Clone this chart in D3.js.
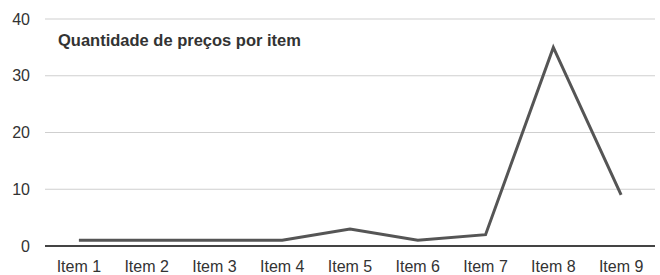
<!DOCTYPE html>
<html>
<head>
<meta charset="utf-8">
<script src="https://cdn.jsdelivr.net/npm/d3@7"></script>
<style>
  body { margin: 0; background: #fff; }
  text { font-family: "Liberation Sans", Arial, sans-serif; fill: #333; }
</style>
</head>
<body>
<div id="chart"></div>
<script>
// data
const items = ['Item 1', 'Item 2', 'Item 3', 'Item 4', 'Item 5', 'Item 6', 'Item 7', 'Item 8', 'Item 9']
const precos = [1, 1, 1, 1, 3, 1, 2, 35, 9]
const yTicks = [0, 10, 20, 30, 40]

const width = 660
const height = 275
const margin = { top: 19, right: 5, bottom: 29, left: 45 }

const svg = d3.select('#chart').append('svg')
  .attr('width', width)
  .attr('height', height)

const x = d3.scalePoint()
  .domain(items)
  .range([margin.left, width - margin.right])
  .padding(0.5)

const y = d3.scaleLinear()
  .domain([0, 40])
  .range([height - margin.bottom, margin.top])

// gridlines
svg.append('g')
  .selectAll('line')
  .data(yTicks.filter(d => d > 0))
  .enter()
  .append('line')
  .attr('x1', margin.left)
  .attr('x2', width - margin.right)
  .attr('y1', d => y(d))
  .attr('y2', d => y(d))
  .attr('stroke', '#cfcfcf')
  .attr('stroke-width', 1)

// y labels
svg.append('g')
  .selectAll('text')
  .data(yTicks)
  .enter()
  .append('text')
  .attr('x', 30)
  .attr('y', d => y(d))
  .attr('dy', '0.35em')
  .attr('text-anchor', 'end')
  .attr('font-size', 16)
  .text(d => d)

// base axis line
svg.append('line')
  .attr('x1', margin.left)
  .attr('x2', width - margin.right)
  .attr('y1', y(0))
  .attr('y2', y(0))
  .attr('stroke', '#444')
  .attr('stroke-width', 2)

// x labels
svg.append('g')
  .selectAll('text')
  .data(items)
  .enter()
  .append('text')
  .attr('x', d => x(d))
  .attr('y', 272)
  .attr('text-anchor', 'middle')
  .attr('font-size', 16)
  .text(d => d)

// the line
const line = d3.line()
  .x((d, i) => x(items[i]))
  .y(d => y(d))

svg.append('path')
  .datum(precos)
  .attr('fill', 'none')
  .attr('stroke', '#555')
  .attr('stroke-width', 3)
  .attr('stroke-linejoin', 'miter')
  .attr('d', line)

// title
svg.append('text')
  .attr('x', 58)
  .attr('y', 46)
  .attr('font-size', 16.5)
  .attr('font-weight', 'bold')
  .attr('fill', '#222')
  .text('Quantidade de preços por item')
</script>
</body>
</html>
